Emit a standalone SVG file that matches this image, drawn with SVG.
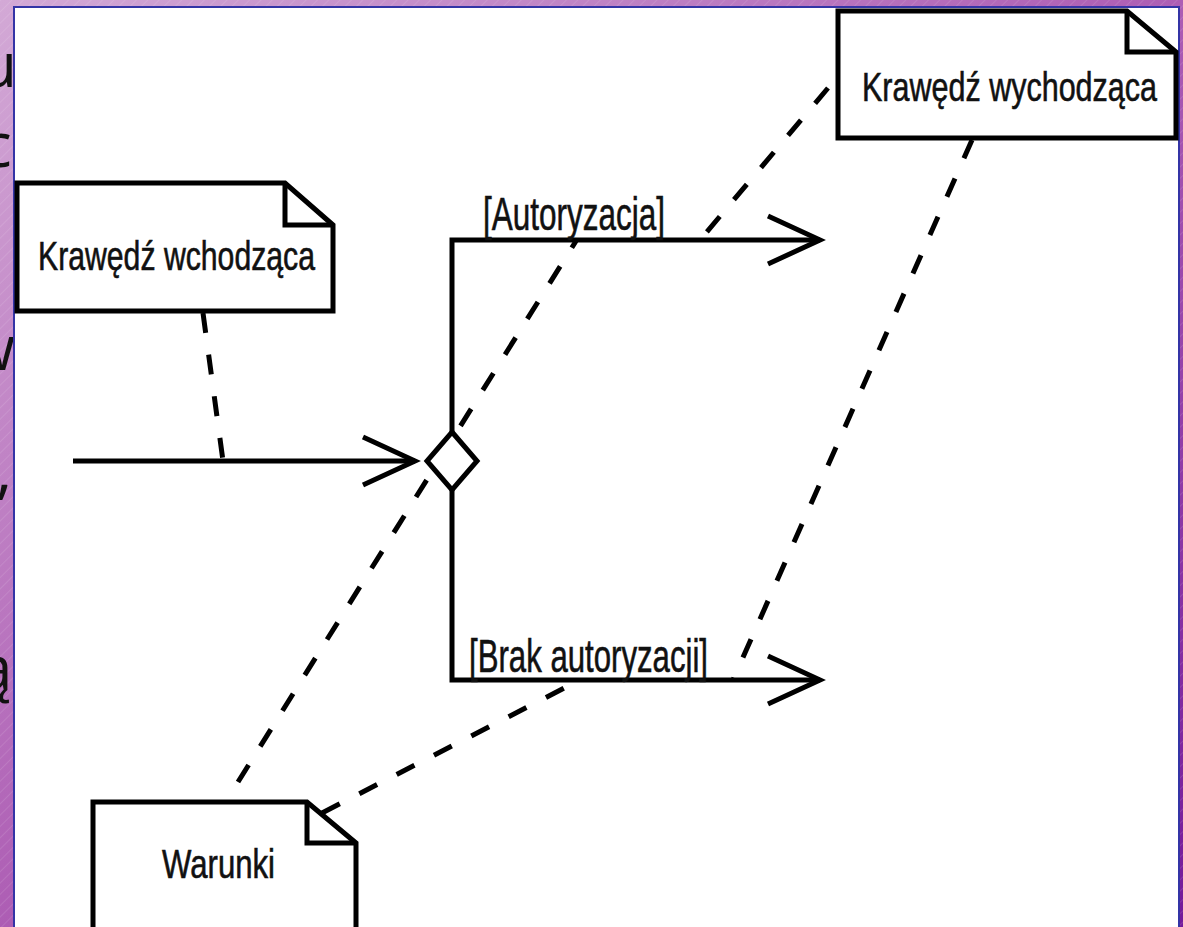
<svg xmlns="http://www.w3.org/2000/svg" width="1183" height="927" viewBox="0 0 1183 927">
  <defs>
    <linearGradient id="bgGrad" x1="0" y1="0" x2="1" y2="1">
      <stop offset="0" stop-color="#d3a9d6"/>
      <stop offset="0.5" stop-color="#ad5db4"/>
      <stop offset="1" stop-color="#741a9a"/>
    </linearGradient>
    <pattern id="stripes" width="8" height="8" patternUnits="userSpaceOnUse" patternTransform="rotate(45)">
      <line x1="0" y1="0" x2="0" y2="8" stroke="#ffffff" stroke-opacity="0.22" stroke-width="1"/>
    </pattern>
    <marker id="openArrow" markerUnits="userSpaceOnUse" viewBox="-60 -30 64 60" markerWidth="64" markerHeight="60" refX="0" refY="0" orient="auto" overflow="visible">
      <path d="M-52,-24 L0,0 L-52,24" fill="none" stroke="#000" stroke-width="5" stroke-linejoin="miter"/>
    </marker>
  </defs>
  <style>
    .bgtext { font-family: "Open Sans", "Noto Sans", sans-serif; font-size: 62px; fill: #111; }
    .note { fill: #ffffff; stroke: #000; stroke-width: 5; stroke-linejoin: miter; }
    .fold { fill: none; stroke: #000; stroke-width: 5; stroke-linejoin: miter; }
    .label { font-family: "Liberation Sans Narrow", "Liberation Sans", Arial, sans-serif; fill: #111; stroke: #111; stroke-width: 0.6; }
    .flow { fill: none; stroke: #000; stroke-width: 5; }
    .dash { fill: none; stroke: #000; stroke-width: 5; stroke-dasharray: 20 22; }
  </style>

  <!-- slide background -->
  <rect x="0" y="0" width="1183" height="927" fill="url(#bgGrad)"/>
  <rect x="0" y="0" width="1183" height="927" fill="url(#stripes)"/>

  <!-- slide body text showing at the left margin -->
  <g id="slide-text" class="bgtext">
    <text x="-21" y="87">u</text>
    <text x="-18" y="167">c</text>
    <text x="-33" y="370">w</text>
    <text x="-4" y="492">,</text>
    <text x="-22" y="690">ą</text>
  </g>

  <!-- white drawing panel -->
  <rect id="panel" x="14" y="7" width="1165" height="930" fill="#ffffff" stroke="#3434a6" stroke-width="2"/>

  <!-- connectors -->
  <g id="connectors">
    <!-- incoming edge -->
    <line class="flow" x1="73" y1="461" x2="415" y2="461" marker-end="url(#openArrow)"/>
    <!-- guarded outgoing edges -->
    <polyline class="flow" points="452,434 452,240 820,240" marker-end="url(#openArrow)"/>
    <polyline class="flow" points="452,488 452,680 820,680" marker-end="url(#openArrow)"/>
    <!-- note anchors -->
    <line class="dash" x1="203" y1="313" x2="223" y2="461"/>
    <line class="dash" x1="238" y1="782" x2="576" y2="241"/>
    <line class="dash" x1="322" y1="813" x2="576" y2="682"/>
    <line class="dash" x1="828" y1="88" x2="700" y2="240"/>
    <line class="dash" x1="972" y1="140" x2="733" y2="680"/>
  </g>

  <!-- decision node -->
  <g id="decision">
    <polygon class="note" points="452,432 477,461 452,490 427,461"/>
  </g>

  <!-- guard labels -->
  <g id="guard-labels">
    <text class="label" x="483" y="230" font-size="46" textLength="182" lengthAdjust="spacingAndGlyphs">[Autoryzacja]</text>
    <text class="label" x="469" y="672" font-size="46" textLength="239" lengthAdjust="spacingAndGlyphs">[Brak autoryzacji]</text>
  </g>

  <!-- note: incoming edge -->
  <g id="note-incoming">
    <path class="note" d="M17,183 H285 L333,225 V311 H17 Z"/>
    <path class="fold" d="M285,183 V225 H333"/>
    <text class="label" x="38" y="270" font-size="40" textLength="277" lengthAdjust="spacingAndGlyphs">Krawędź wchodząca</text>
  </g>

  <!-- note: outgoing edge -->
  <g id="note-outgoing">
    <path class="note" d="M838,11 H1127 L1176,52 V138 H838 Z"/>
    <path class="fold" d="M1127,11 V52 H1176"/>
    <text class="label" x="862" y="101" font-size="41" textLength="295" lengthAdjust="spacingAndGlyphs">Krawędź wychodząca</text>
  </g>

  <!-- note: conditions -->
  <g id="note-conditions">
    <path class="note" d="M93,802 H307 L356,843 V940 H93 Z"/>
    <path class="fold" d="M307,802 V843 H356"/>
    <text class="label" x="162" y="878" font-size="40" textLength="113" lengthAdjust="spacingAndGlyphs">Warunki</text>
  </g>
</svg>
